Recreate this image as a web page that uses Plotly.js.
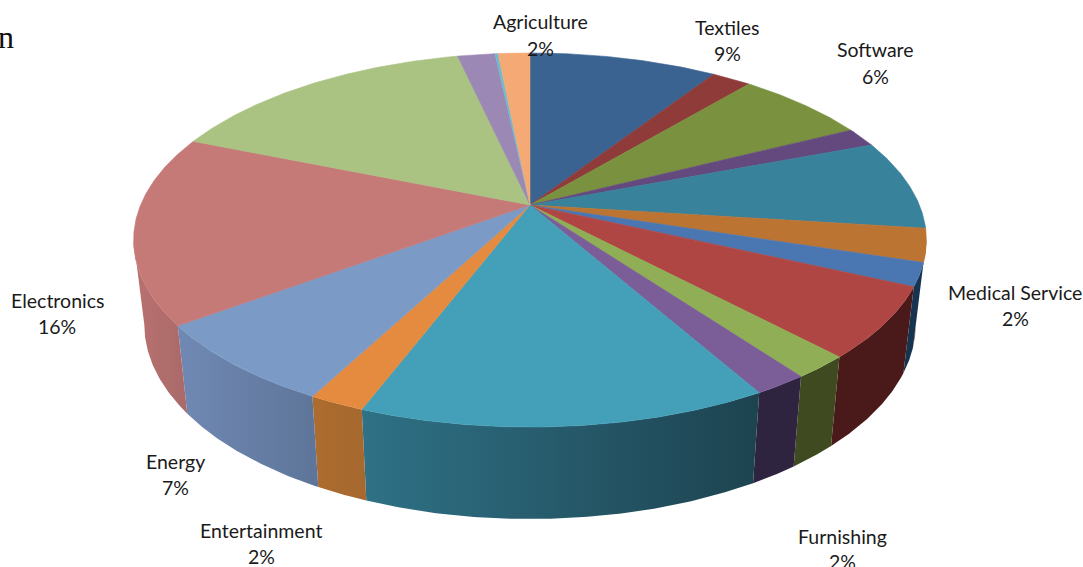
<!DOCTYPE html>
<html>
<head>
<meta charset="utf-8">
<script src="https://cdn.plot.ly/plotly-3.0.1.min.js"></script>
<style>html,body{margin:0;padding:0;background:#fff;overflow:hidden}#chart{width:1083px;height:567px}</style>
</head>
<body>
<div id="chart"></div>
<script>
// Slice shares in percent, clockwise from 12 o'clock
var shares = [9.19, 1.92, 6.47, 1.65, 7.77, 2.87, 1.99, 6.1, 1.98, 1.86, 14.0, 1.92, 7.14, 16.3, 15.31, 1.83, 0.15, 1.55];
// Only some slices carry a label in the chart
var sliceNames = ['Textiles', '', 'Software', '', '', '', 'Medical Service', '', 'Furnishing', '', '', 'Entertainment', 'Energy', 'Electronics', '', '', '', 'Agriculture'];
var topColors = ['#3A6391', '#8F3B39', '#7A9140', '#64497F', '#38829B', '#BC7433', '#4A77B1', '#B04643', '#8FAE55', '#7B5D98', '#43A0B8', '#E58B3F', '#7B9AC6', '#C57A78', '#AAC382', '#9C88B4', '#6FBCD0', '#F5AA75'];
var wallLeft = ['#2A4A6E', '#6B2C2A', '#5A6D30', '#4A3760', '#1F5566', '#7A4A20', '#16344F', '#4A1A1A', '#3F4A20', '#2E2440', '#2F7186', '#AD6C2F', '#7089B4', '#B97170', '#809260', '#75668A', '#53909C', '#B87F58'];
var wallRight = ['#2A4A6E', '#6B2C2A', '#5A6D30', '#4A3760', '#1F5566', '#7A4A20', '#16344F', '#4A1A1A', '#3F4A20', '#2E2440', '#1D4350', '#A5682E', '#5E7599', '#A96A69', '#809260', '#75668A', '#53909C', '#B87F58'];
// Label anchors (centre x, first-line y, second-line y)
var labelX = {'Textiles':727,'Software':875,'Medical Service':1015,'Furnishing':842,'Entertainment':261,'Energy':175,'Electronics':57,'Agriculture':540};
var labelY = {'Textiles':[27,53],'Software':[49,76],'Medical Service':[292,318],'Furnishing':[536,561],'Entertainment':[530,556],'Energy':[461,487],'Electronics':[300,326],'Agriculture':[21,48]};

// Perspective view of the pie
var cx = 530, cy = 205, p = 0.1872, A = 389.4, B = 180.5;
function topPt(a){ var u=Math.sin(a), v=-Math.cos(a), d=1-p*v; return [cx+A*u/d, cy+B*v/d]; }
function botPt(a){ var u=Math.sin(a), v=-Math.cos(a), d=1-p*v; return [cx+0.973*A*u/d, cy+83+1.04*B*v/d]; }
var total = shares.reduce(function(s,v){return s+v;},0);
var rad = Math.PI/180, traces = [], tops = [], acc = 0;
var wallStart = Math.acos(-p)/rad, wallEnd = 360-wallStart;
shares.forEach(function(val,i){
  var a0 = acc/total*360, a1 = (acc+val)/total*360; acc += val;
  var n = Math.max(3,Math.ceil((a1-a0)/0.5)), xs=[cx], ys=[cy], j, t, q;
  for(j=0;j<=n;j++){ t=(a0+(a1-a0)*j/n)*rad; q=topPt(t); xs.push(q[0]); ys.push(q[1]); }
  xs.push(cx); ys.push(cy);
  tops.push({type:'scatter',mode:'lines',x:xs,y:ys,fill:'toself',fillcolor:topColors[i],
    line:{color:topColors[i],width:0.6},hoverinfo:'skip'});
  var w0=Math.max(a0,wallStart), w1=Math.min(a1,wallEnd);
  if(w1>w0){
    var wx=[],wy=[];
    n=Math.max(3,Math.ceil((w1-w0)/0.5));
    for(j=0;j<=n;j++){ t=(w0+(w1-w0)*j/n)*rad; q=topPt(t); wx.push(q[0]); wy.push(q[1]); }
    for(j=n;j>=0;j--){ t=(w0+(w1-w0)*j/n)*rad; q=botPt(t); wx.push(q[0]); wy.push(q[1]); }
    wx.push(wx[0]); wy.push(wy[0]);
    traces.push({type:'scatter',mode:'lines',x:wx,y:wy,fill:'toself',
      fillgradient:{type:'horizontal',colorscale:[[0,wallLeft[i]],[1,wallRight[i]]]},
      line:{color:wallRight[i],width:0},hoverinfo:'skip'});
  }
});
var annotations = [];
var labelFont = {family:'Lato, sans-serif',size:19.5,color:'#1a1a1a'};
sliceNames.forEach(function(name,i){
  if(!name) return;
  annotations.push({x:labelX[name],y:labelY[name][0],xref:'x',yref:'y',text:name,showarrow:false,font:labelFont,xanchor:'center',yanchor:'middle'});
  annotations.push({x:labelX[name],y:labelY[name][1],xref:'x',yref:'y',text:Math.round(shares[i])+'%',showarrow:false,font:labelFont,xanchor:'center',yanchor:'middle'});
});
annotations.push({x:0,y:37,xref:'x',yref:'y',text:'n',showarrow:false,xanchor:'left',yanchor:'middle',xshift:-4,
  font:{family:'Liberation Serif, serif',size:32,color:'#111'}});
Plotly.newPlot('chart',traces.concat(tops),{
  width:1083,height:567,margin:{l:0,r:0,t:0,b:0},showlegend:false,
  paper_bgcolor:'#fff',plot_bgcolor:'#fff',
  xaxis:{range:[0,1083],visible:false,fixedrange:true},
  yaxis:{range:[567,0],visible:false,fixedrange:true},
  annotations:annotations
},{staticPlot:true,displayModeBar:false});
</script>
</body>
</html>
